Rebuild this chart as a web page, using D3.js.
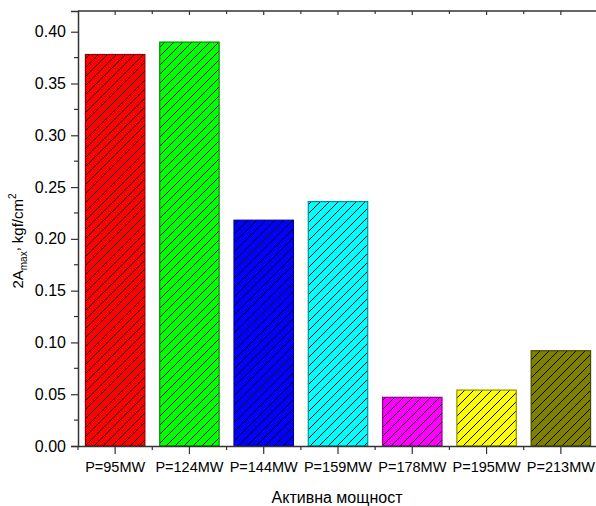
<!DOCTYPE html>
<html>
<head>
<meta charset="utf-8">
<script src="https://cdn.jsdelivr.net/npm/d3@7"></script>
<style>
  html, body { margin: 0; padding: 0; background: #fff; }
  svg { display: block; font-family: Arial, "Liberation Sans", sans-serif; }
</style>
</head>
<body>
<svg id="chart" width="596" height="506"></svg>
<script>
// Power levels and measured double amplitude
const categories = ["P=95MW", "P=124MW", "P=144MW", "P=159MW", "P=178MW", "P=195MW", "P=213MW"];
const values = [0.378, 0.390, 0.218, 0.236, 0.047, 0.054, 0.092];
const colors = ["#ff0000", "#00ff00", "#0000ff", "#00ffff", "#ff00ff", "#ffff00", "#808000"];
const yTicks = [0.00, 0.05, 0.10, 0.15, 0.20, 0.25, 0.30, 0.35, 0.40];
const yMinorTicks = [0.025, 0.075, 0.125, 0.175, 0.225, 0.275, 0.325, 0.375];

const svg = d3.select("#chart");
const plotLeft = 78, plotTop = 11, plotRight = 598, plotBottom = 446;

const x = d3.scaleBand().domain(categories).range([plotLeft, plotRight]).paddingInner(0.2).paddingOuter(0.1);
const xBoundary = d3.scaleLinear().domain([0, categories.length]).range([plotLeft, plotRight]);
const y = d3.scaleLinear().domain([0, 0.42]).range([plotBottom, plotTop]);

// Diagonal hatch pattern
const defs = svg.append("defs");
defs.append("pattern")
  .attr("id", "hatch")
  .attr("patternUnits", "userSpaceOnUse")
  .attr("width", 9).attr("height", 9)
  .append("path")
  .attr("d", "M-1,10 L10,-1 M-2,2 L2,-2 M7,11 L11,7")
  .attr("stroke", "#000").attr("stroke-width", 1);

const bars = svg.append("g");
categories.forEach((c, i) => {
  const g = bars.append("g");
  const bx = x(c), bw = x.bandwidth(), by = y(values[i]), bh = y(0) - y(values[i]);
  g.append("rect")
    .attr("x", bx).attr("y", by).attr("width", bw).attr("height", bh)
    .attr("fill", colors[i]);
  g.append("rect")
    .attr("x", bx).attr("y", by).attr("width", bw).attr("height", bh)
    .attr("fill", "url(#hatch)")
    .attr("stroke", d3.color(colors[i]).darker(1.6))
    .attr("stroke-width", 1.2);
});

const axisColor = "#333";

// Frame top edge
svg.append("line").attr("x1", plotLeft).attr("x2", plotRight).attr("y1", plotTop).attr("y2", plotTop)
  .attr("stroke", axisColor).attr("stroke-width", 1.5);

// Left axis
const yAxis = svg.append("g").attr("transform", `translate(${plotLeft},0)`)
  .call(d3.axisLeft(y).tickValues(yTicks).tickFormat(d3.format(".2f")).tickSize(7).tickPadding(5));
yAxis.select(".domain").attr("stroke", axisColor).attr("stroke-width", 1.5);
yAxis.selectAll(".tick line").attr("stroke", axisColor).attr("stroke-width", 1.2);
yAxis.selectAll(".tick text").attr("font-size", 16).attr("fill", "#000")
  .attr("font-family", "Arial, 'Liberation Sans', sans-serif");
svg.append("g").selectAll("line").data(yMinorTicks).join("line")
  .attr("x1", plotLeft - 4).attr("x2", plotLeft).attr("y1", d => y(d)).attr("y2", d => y(d))
  .attr("stroke", axisColor).attr("stroke-width", 1.2);

// Bottom axis
const xAxis = svg.append("g").attr("transform", `translate(0,${plotBottom})`)
  .call(d3.axisBottom(x).tickSize(8).tickPadding(8).tickSizeOuter(0));
xAxis.select(".domain").attr("stroke", axisColor).attr("stroke-width", 1.5);
xAxis.selectAll(".tick line").attr("stroke", axisColor).attr("stroke-width", 1.2);
xAxis.selectAll(".tick text").attr("font-size", 14.5).attr("fill", "#000")
  .attr("font-family", "Arial, 'Liberation Sans', sans-serif");
svg.append("g").selectAll("line").data(d3.range(0, categories.length + 1)).join("line")
  .attr("x1", d => xBoundary(d)).attr("x2", d => xBoundary(d))
  .attr("y1", plotBottom).attr("y2", plotBottom + 4)
  .attr("stroke", axisColor).attr("stroke-width", 1.2);

// Top edge ticks (inward)
svg.append("g").selectAll("line").data(categories).join("line")
  .attr("x1", d => x(d) + x.bandwidth() / 2).attr("x2", d => x(d) + x.bandwidth() / 2)
  .attr("y1", plotTop).attr("y2", plotTop + 4)
  .attr("stroke", axisColor).attr("stroke-width", 1.2);
svg.append("g").selectAll("line").data(d3.range(1, categories.length)).join("line")
  .attr("x1", d => xBoundary(d)).attr("x2", d => xBoundary(d))
  .attr("y1", plotTop).attr("y2", plotTop + 3)
  .attr("stroke", axisColor).attr("stroke-width", 1.2);

// Axis titles
svg.append("text")
  .attr("x", 337).attr("y", 503)
  .attr("text-anchor", "middle").attr("font-size", 16)
  .text("Активна мощност");

const yTitle = svg.append("text")
  .attr("transform", `translate(23,241) rotate(-90)`)
  .attr("text-anchor", "middle").attr("font-size", 15);
yTitle.append("tspan").text("2A");
yTitle.append("tspan").attr("font-size", 10).attr("dy", 4).text("max");
yTitle.append("tspan").attr("dy", -8).text(",");
yTitle.append("tspan").attr("dy", 4).attr("dx", 4).text("kgf/cm");
yTitle.append("tspan").attr("font-size", 10).attr("dy", -7).text("2");
</script>
</body>
</html>
